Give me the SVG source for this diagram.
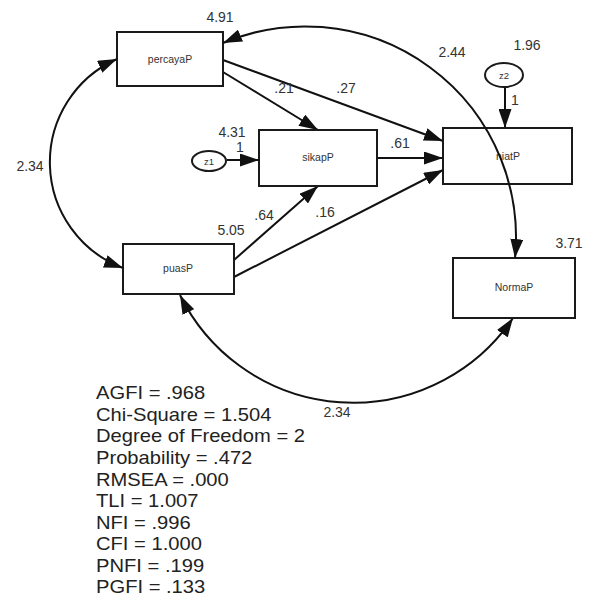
<svg xmlns="http://www.w3.org/2000/svg" width="592" height="598" viewBox="0 0 592 598">
<style>
.box{fill:#fff;stroke:#1a1a1a;stroke-width:2}
.ell{fill:#fff;stroke:#1a1a1a;stroke-width:2}
.lbl{font-family:"Liberation Sans",Arial,sans-serif;font-size:10.5px;fill:#333;text-anchor:middle}
.num{font-family:"Liberation Sans",Arial,sans-serif;font-size:14px;fill:#333;text-anchor:middle}
.con{fill:none;stroke:#111;stroke-width:2}
.fit{font-family:"Liberation Sans",Arial,sans-serif;font-size:18px;fill:#222}
</style>
<defs>
<marker id="ah" markerUnits="userSpaceOnUse" markerWidth="19" markerHeight="13" refX="19" refY="6.5" orient="auto-start-reverse" viewBox="0 0 19 13">
<path d="M0,0 L19,6.5 L0,13 z" fill="#111"/>
</marker>
</defs>
<rect width="592" height="598" fill="#fff"/>
<g id="connectors">
<path class="con" d="M223,72 L318,130" marker-end="url(#ah)"/>
<path class="con" d="M223,60 L443,141" marker-end="url(#ah)"/>
<path class="con" d="M377,158 L443,158" marker-end="url(#ah)"/>
<path class="con" d="M234,260 L318,186" marker-end="url(#ah)"/>
<path class="con" d="M234,277 L443,170" marker-end="url(#ah)"/>
<path class="con" d="M227,160 L259,160" marker-end="url(#ah)"/>
<path class="con" d="M505,87 L505,128" marker-end="url(#ah)"/>
<path class="con" d="M117,59 A113,113 0 0 0 123,268" marker-start="url(#ah)" marker-end="url(#ah)"/>
<path class="con" d="M180,295 A193,193 0 0 0 513,318" marker-start="url(#ah)" marker-end="url(#ah)"/>
</g>
<g id="percayaP"><rect class="box" x="117" y="32" width="106" height="54"/><text class="lbl" x="170" y="63">percayaP</text></g>
<g id="puasP"><rect class="box" x="123" y="244" width="111" height="50"/><text class="lbl" x="178" y="272">puasP</text></g>
<g id="sikapP"><rect class="box" x="259" y="130" width="118" height="56"/><text class="lbl" x="318" y="161">sikapP</text></g>
<g id="niatP"><rect class="box" x="443" y="128" width="129" height="56"/><text class="lbl" x="508" y="160">niatP</text></g>
<g id="NormaP"><rect class="box" x="453" y="258" width="122" height="60"/><text class="lbl" x="514" y="291">NormaP</text></g>
<g id="z1"><ellipse class="ell" cx="209" cy="161" rx="17" ry="10"/><text class="lbl" x="209" y="164.5" style="font-size:9.5px">z1</text></g>
<g id="z2"><ellipse class="ell" cx="504" cy="75" rx="19" ry="12"/><text class="lbl" x="504" y="78.5" style="font-size:9.5px">z2</text></g>
<g id="cov-arc">
<path class="con" d="M223,43 A211,211 0 0 1 515,258" marker-start="url(#ah)" marker-end="url(#ah)"/>
</g>
<g id="labels">
<text class="num" x="220" y="22">4.91</text>
<text class="num" x="452" y="57">2.44</text>
<text class="num" x="527" y="50">1.96</text>
<text class="num" x="346" y="93">.27</text>
<text class="num" x="284" y="93">.21</text>
<text class="num" x="232" y="137">4.31</text>
<text class="num" x="240" y="152">1</text>
<text class="num" x="400" y="148">.61</text>
<text class="num" x="515" y="105">1</text>
<text class="num" x="30" y="171">2.34</text>
<text class="num" x="264" y="220">.64</text>
<text class="num" x="325" y="217">.16</text>
<text class="num" x="231" y="235">5.05</text>
<text class="num" x="569" y="248">3.71</text>
<text class="num" x="337" y="417">2.34</text>
</g>
<g id="fit" transform="translate(96 0) scale(1.12 1)">
<text class="fit" x="0" y="399">AGFI = .968</text>
<text class="fit" x="0" y="421">Chi-Square = 1.504</text>
<text class="fit" x="0" y="442">Degree of Freedom = 2</text>
<text class="fit" x="0" y="464">Probability = .472</text>
<text class="fit" x="0" y="486">RMSEA = .000</text>
<text class="fit" x="0" y="507">TLI = 1.007</text>
<text class="fit" x="0" y="529">NFI = .996</text>
<text class="fit" x="0" y="550">CFI = 1.000</text>
<text class="fit" x="0" y="572">PNFI = .199</text>
<text class="fit" x="0" y="593">PGFI = .133</text>
</g>
</svg>
